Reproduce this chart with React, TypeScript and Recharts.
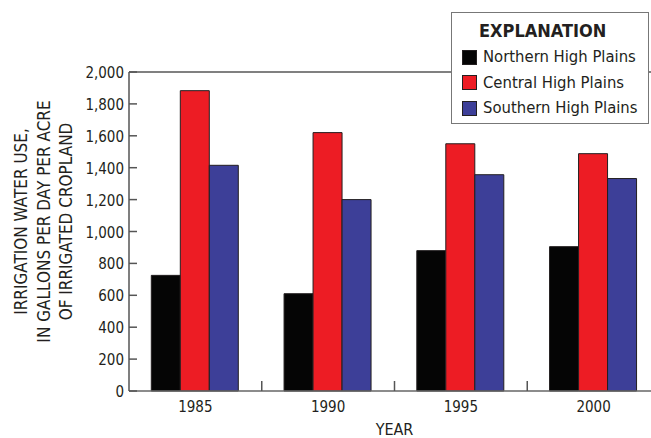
import React from 'react'
import { BarChart, Bar, XAxis, YAxis, ReferenceLine } from 'recharts'

const years = ['1985', '1990', '1995', '2000']
const northern = [725, 610, 880, 905]
const central = [1883, 1620, 1550, 1488]
const southern = [1415, 1200, 1356, 1332]
const yTicks = [0, 200, 400, 600, 800, 1000, 1200, 1400, 1600, 1800, 2000]

const series = [
    { key: 'northern', name: 'Northern High Plains', color: '#050505' },
    { key: 'central', name: 'Central High Plains', color: '#ed1c24' },
    { key: 'southern', name: 'Southern High Plains', color: '#3d3f98' },
]

const data = years.map((year, i) => ({
    year,
    northern: northern[i],
    central: central[i],
    southern: southern[i],
}))

const FONT = '"DejaVu Sans Condensed", "DejaVu Sans", sans-serif'
const TEXT = '#231f20'

const fmt = (v: number) => v.toLocaleString('en-US')

// y ticks point into the plot
const YTick = ({ x, y, payload }: any) => (
    <g>
        <line x1={x} x2={x + 8} y1={y} y2={y} stroke="#555" strokeWidth={1.5} />
        <text x={x - 5} y={y} dy={6} textAnchor="end" fontFamily={FONT} fontStretch="condensed" fontSize={15} fill={TEXT}>
            {fmt(payload.value)}
        </text>
    </g>
)

// year labels at the centre, small upward ticks between the groups
const XTick = ({ x, y, payload, index }: any) => {
    const half = payload.offset ?? 66
    return (
        <g>
            {index < years.length - 1 && (
                <line x1={x + half} x2={x + half} y1={y} y2={y - 10} stroke="#555" strokeWidth={1.5} />
            )}
            <text x={x} y={y + 21} textAnchor="middle" fontFamily={FONT} fontStretch="condensed" fontSize={15} fill={TEXT}>
                {payload.value}
            </text>
        </g>
    )
}

const YLabel = ({ viewBox }: any) => {
    const cy = viewBox.y + viewBox.height / 2 - 10
    const lines = [
        { text: 'IRRIGATION WATER USE,', x: 27 },
        { text: 'IN GALLONS PER DAY PER ACRE', x: 50 },
        { text: 'OF IRRIGATED CROPLAND', x: 72 },
    ]
    return (
        <g>
            {lines.map((l) => (
                <text
                    key={l.text}
                    x={l.x}
                    y={cy}
                    transform={`rotate(-90, ${l.x}, ${cy})`}
                    textAnchor="middle"
                    fontFamily={FONT}
                    fontStretch="condensed"
                    fontSize={17}
                    fill={TEXT}
                >
                    {l.text}
                </text>
            ))}
        </g>
    )
}

function Explanation() {
    return (
        <div
            style={{
                position: 'absolute',
                left: 451,
                top: 12,
                width: 196,
                height: 110,
                border: '1.5px solid #777',
                background: '#fff',
                fontFamily: FONT,
                fontStretch: 'condensed',
                color: TEXT,
                whiteSpace: 'nowrap',
            }}
        >
            <div style={{ position: 'absolute', left: 27, top: 7, fontSize: 18, fontWeight: 'bold', lineHeight: '22px' }}>
                EXPLANATION
            </div>
            {series.map((s, i) => (
                <div key={s.key} style={{ position: 'absolute', left: 10, top: 35 + i * 25.7, display: 'flex', alignItems: 'center' }}>
                    <div style={{ width: 15, height: 15, background: s.color, border: '1px solid #231f20', boxSizing: 'border-box' }} />
                    <span style={{ marginLeft: 6, fontSize: 16.5, lineHeight: '18px' }}>{s.name}</span>
                </div>
            ))}
        </div>
    )
}

export default function App() {
    return (
        <div style={{ position: 'absolute', left: 0, top: 0, width: 651, height: 438, overflow: 'hidden', background: '#fff' }}>
            <BarChart
                width={700}
                height={438}
                data={data}
                margin={{ top: 72, right: 40, bottom: 0, left: 0 }}
                barCategoryGap="16.8%"
                barGap={0}
            >
                <XAxis
                    dataKey="year"
                    height={47}
                    tickSize={0}
                    tickMargin={0}
                    tickLine={false}
                    axisLine={{ stroke: '#666', strokeWidth: 1.5 }}
                    tick={<XTick />}
                    interval={0}
                    label={{ value: 'YEAR', position: 'insideBottom', offset: 3, fontFamily: FONT, fontSize: 16, fill: TEXT }}
                />
                <YAxis
                    width={129}
                    domain={[0, 2000]}
                    ticks={yTicks}
                    tickSize={0}
                    tickMargin={0}
                    tickLine={false}
                    axisLine={{ stroke: '#555', strokeWidth: 1.5 }}
                    tick={<YTick />}
                    interval={0}
                    label={{ content: <YLabel /> }}
                />
                <ReferenceLine y={2000} stroke="#808080" strokeWidth={2} />
                {series.map((s) => (
                    <Bar
                        key={s.key}
                        dataKey={s.key}
                        name={s.name}
                        fill={s.color}
                        stroke="#231f20"
                        strokeWidth={1}
                        isAnimationActive={false}
                    />
                ))}
            </BarChart>
            <Explanation />
        </div>
    )
}
